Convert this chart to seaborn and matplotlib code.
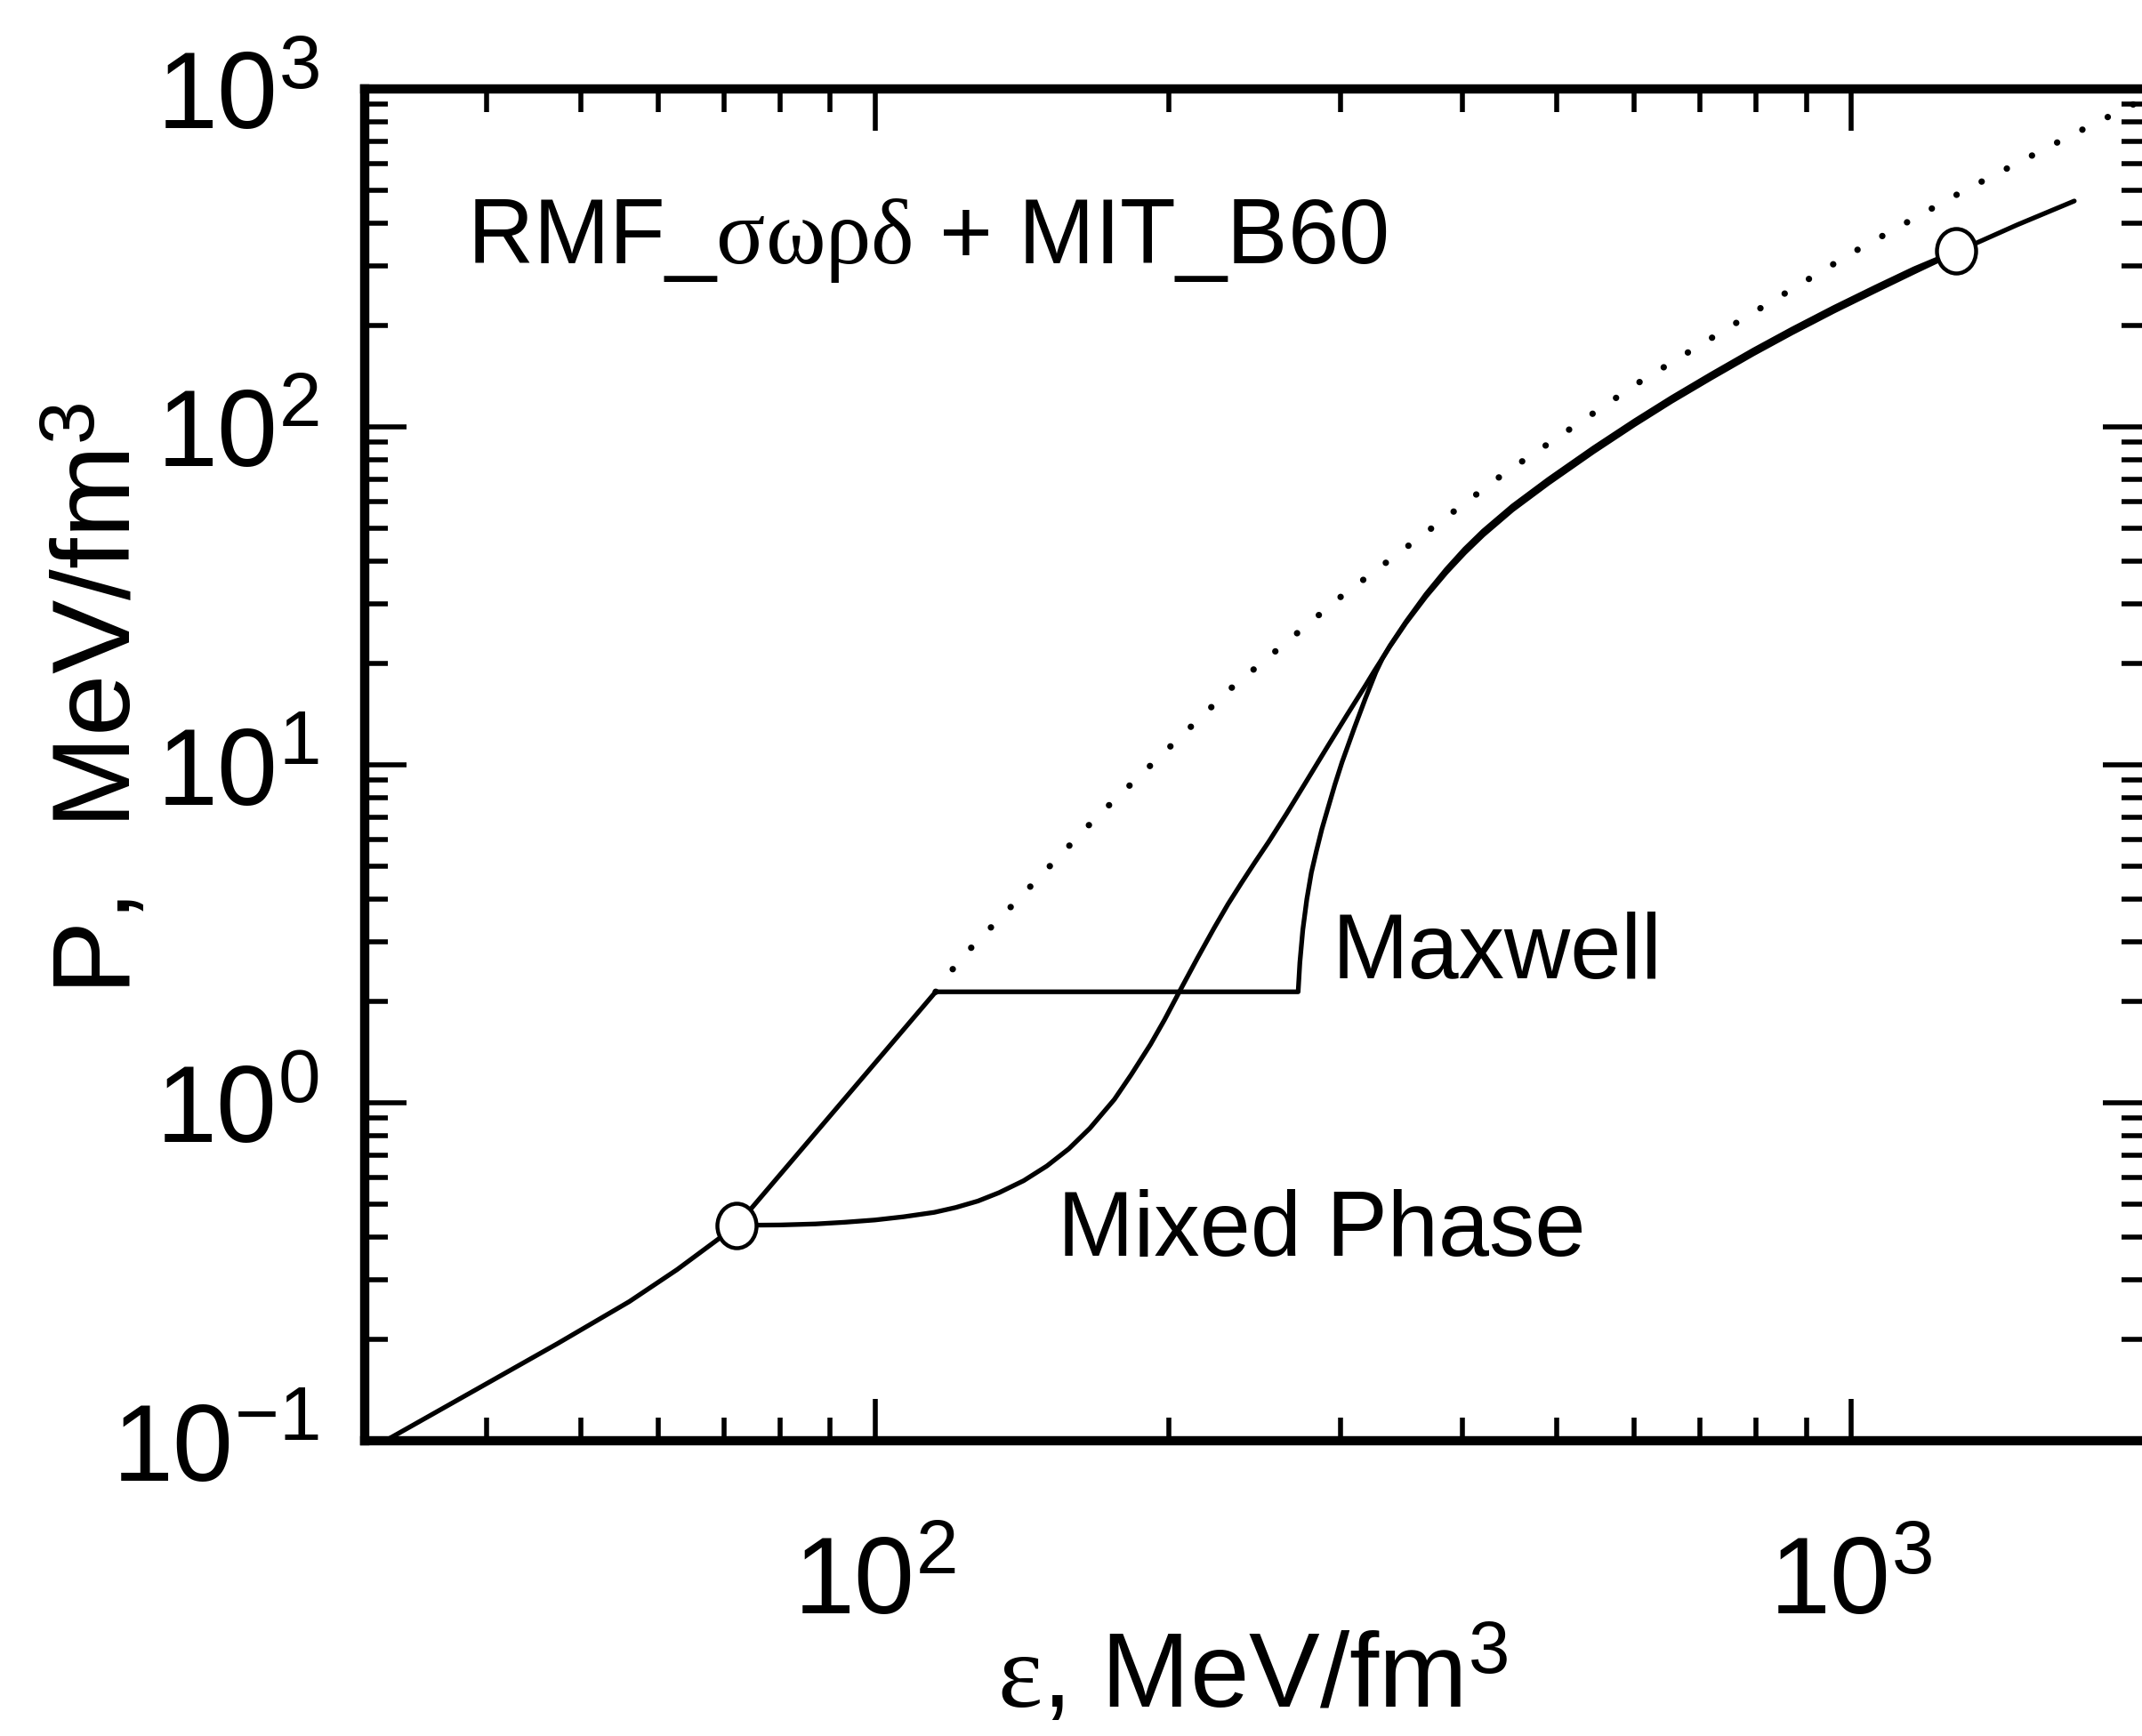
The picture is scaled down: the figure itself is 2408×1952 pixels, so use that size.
import numpy as np
import matplotlib
matplotlib.use("Agg")
import matplotlib.pyplot as plt
import seaborn as sns
from matplotlib import font_manager
from matplotlib.path import Path
from matplotlib.transforms import Affine2D
from matplotlib.ticker import NullFormatter

# Hadronic EOS (RMF sigma-omega-rho-delta) below the phase transition
hadron_eps = [31.5, 40.4, 47.3, 56.0, 62.7, 72.2]
hadron_p = [0.100, 0.150, 0.194, 0.258, 0.321, 0.434]

# Maxwell construction: hadronic rise, constant-pressure plateau, quark branch
maxwell_eps = [72.2, 115.4, 271.4, 272.5, 274.4, 277.0, 280.0, 283.3, 287.0,
               291.0, 296.0, 301.0, 310.0, 318.0, 326.0, 331.0, 337, 350, 367,
               385, 402, 420, 450, 490, 545, 600, 655, 720, 795, 870, 960,
               1060, 1160, 1283]
maxwell_p = [0.434, 2.13, 2.13, 2.6, 3.25, 4.0, 4.8, 5.55, 6.45,
             7.4, 8.75, 10.18, 12.9, 15.7, 18.8, 20.6, 22.5, 26.5, 32.0,
             37.9, 43.5, 49.2, 58.3, 70.0, 86.7, 104.1, 122.0, 143.4, 168.9,
             194.5, 225.3, 259.2, 293.4, 331.6]

# Gibbs (mixed phase) construction
mixed_eps = [72.2, 80, 86.9, 93, 100, 107, 115, 121, 127.5, 134, 142, 150,
             158, 166, 175.9, 183, 191.6, 198, 205.4, 214, 222.6, 230, 237.5,
             245, 253.2, 264, 276, 289.8, 304, 318.4, 325, 337, 350, 367, 385,
             402, 420, 450, 490, 545, 600, 655, 720, 795, 870, 960, 1060,
             1160, 1283, 1480, 1694]
mixed_p = [0.434, 0.435, 0.438, 0.443, 0.45, 0.46, 0.474, 0.49, 0.512, 0.542,
           0.588, 0.65, 0.731, 0.84, 1.023, 1.21, 1.49, 1.76, 2.15, 2.68,
           3.29, 3.87, 4.48, 5.14, 5.92, 7.16, 8.83, 11.13, 13.93, 17.24,
           19.0, 22.4, 26.3, 31.5, 37.1, 42.4, 47.9, 56.8, 68.2, 84.5, 101.5,
           119.0, 139.8, 164.7, 189.7, 219.8, 253.0, 287.0, 329.5, 396, 466]

# Hadronic EOS continued beyond the transition (dotted)
hadron_ext_eps = [115.4, 122.4, 139.6, 168.4, 231.4, 299.6, 439.8, 605.8,
                  782.4, 1006, 1299, 1678, 1793, 2000]
hadron_ext_p = [2.13, 2.67, 3.95, 6.97, 16.8, 31.3, 72.3, 135.1, 212.3,
                329.1, 495.8, 727, 800, 935]

# Boundaries of the mixed phase
onset_eps = [72.2, 1283]
onset_p = [0.434, 331.6]

title_text = "RMF_$\\mathrm{σωρδ}$ + MIT_B60"
maxwell_label = "Maxwell"
mixed_label = "Mixed Phase"
x_label = "$\\mathrm{ε}$, MeV/fm$^{\\mathregular{3}}$"
y_label = "P,  MeV/fm$^{\\mathregular{3}}$"

sns.set_theme(style="ticks", rc={
    "axes.edgecolor": "black", "text.color": "black",
    "axes.labelcolor": "black", "xtick.color": "black",
    "ytick.color": "black", "axes.facecolor": "white",
    "figure.facecolor": "white",
})

names = {f.name for f in font_manager.fontManager.ttflist}
narrow = "Liberation Sans Narrow" if "Liberation Sans Narrow" in names else "Liberation Sans"
tick_size = 100 if narrow.endswith("Narrow") else 88
ann_size = 81 if narrow.endswith("Narrow") else 74

plt.rcParams["font.family"] = [narrow, "Liberation Sans", "DejaVu Sans"]
plt.rcParams.update({
    "mathtext.fontset": "custom",
    "mathtext.rm": "Liberation Serif",
    "mathtext.it": "Liberation Serif:italic",
    "mathtext.bf": "Liberation Serif:bold",
})

fig = plt.figure(figsize=(24.08, 19.52), dpi=100)
ax = fig.add_axes([410 / 2408, 332 / 1952, 2001 / 2408, 1520 / 1952])
ax.set_xscale("log")
ax.set_yscale("log")

line_kw = dict(color="black", estimator=None, sort=False, legend=False, ax=ax)
sns.lineplot(x=hadron_eps, y=hadron_p, **line_kw)
sns.lineplot(x=maxwell_eps, y=maxwell_p, **line_kw)
sns.lineplot(x=mixed_eps, y=mixed_p, **line_kw)
for ln in ax.lines:
    ln.set_linewidth(3.8)
    ln.set_solid_joinstyle("round")
    ln.set_solid_capstyle("round")

sns.lineplot(x=hadron_ext_eps, y=hadron_ext_p, **line_kw)
dotted = ax.lines[-1]
dotted.set_linewidth(5.2)
dotted.set_linestyle((0, (0.01, 4.4)))
dotted.set_dash_capstyle("round")

ellipse = Path.unit_circle().transformed(Affine2D().scale(0.88, 1.0))
sns.scatterplot(x=onset_eps, y=onset_p, marker=ellipse, s=36 ** 2,
                color="white", edgecolor="black", linewidth=3.2, zorder=5,
                legend=False, ax=ax)

ax.set_xlim(30, 2000)
ax.set_ylim(0.1, 1000)

for sp in ax.spines.values():
    sp.set_linewidth(7.5)
    sp.set_color("black")

ax.xaxis.set_minor_formatter(NullFormatter())
ax.yaxis.set_minor_formatter(NullFormatter())
ax.tick_params(which="both", direction="in", top=True, right=True, width=4)
ax.tick_params(which="major", length=34, labelsize=tick_size)
ax.tick_params(which="minor", length=19)
ax.tick_params(axis="x", which="major", pad=76)
ax.tick_params(axis="y", which="major", pad=37)

ax.text(38.2, 305, title_text, fontsize=ann_size, ha="left", va="baseline")
ax.text(294.0, 2.33, maxwell_label, fontsize=ann_size, ha="left", va="baseline")
ax.text(153.8, 0.3527, mixed_label, fontsize=ann_size, ha="left", va="baseline")

regular = ["Liberation Sans", "DejaVu Sans"]
ax.set_xlabel(x_label, fontsize=86, family=regular, va="baseline", ha="center")
ax.xaxis.set_label_coords((1408 - 410) / 2001, (1620 - 1920) / 1520)
ax.set_ylabel(y_label, fontsize=90, family=regular, va="baseline", ha="center",
              rotation=90, rotation_mode="anchor")
ax.yaxis.set_label_coords((147 - 410) / 2001, (1620 - 786) / 1520)

fig.savefig("out.png", dpi=100)
